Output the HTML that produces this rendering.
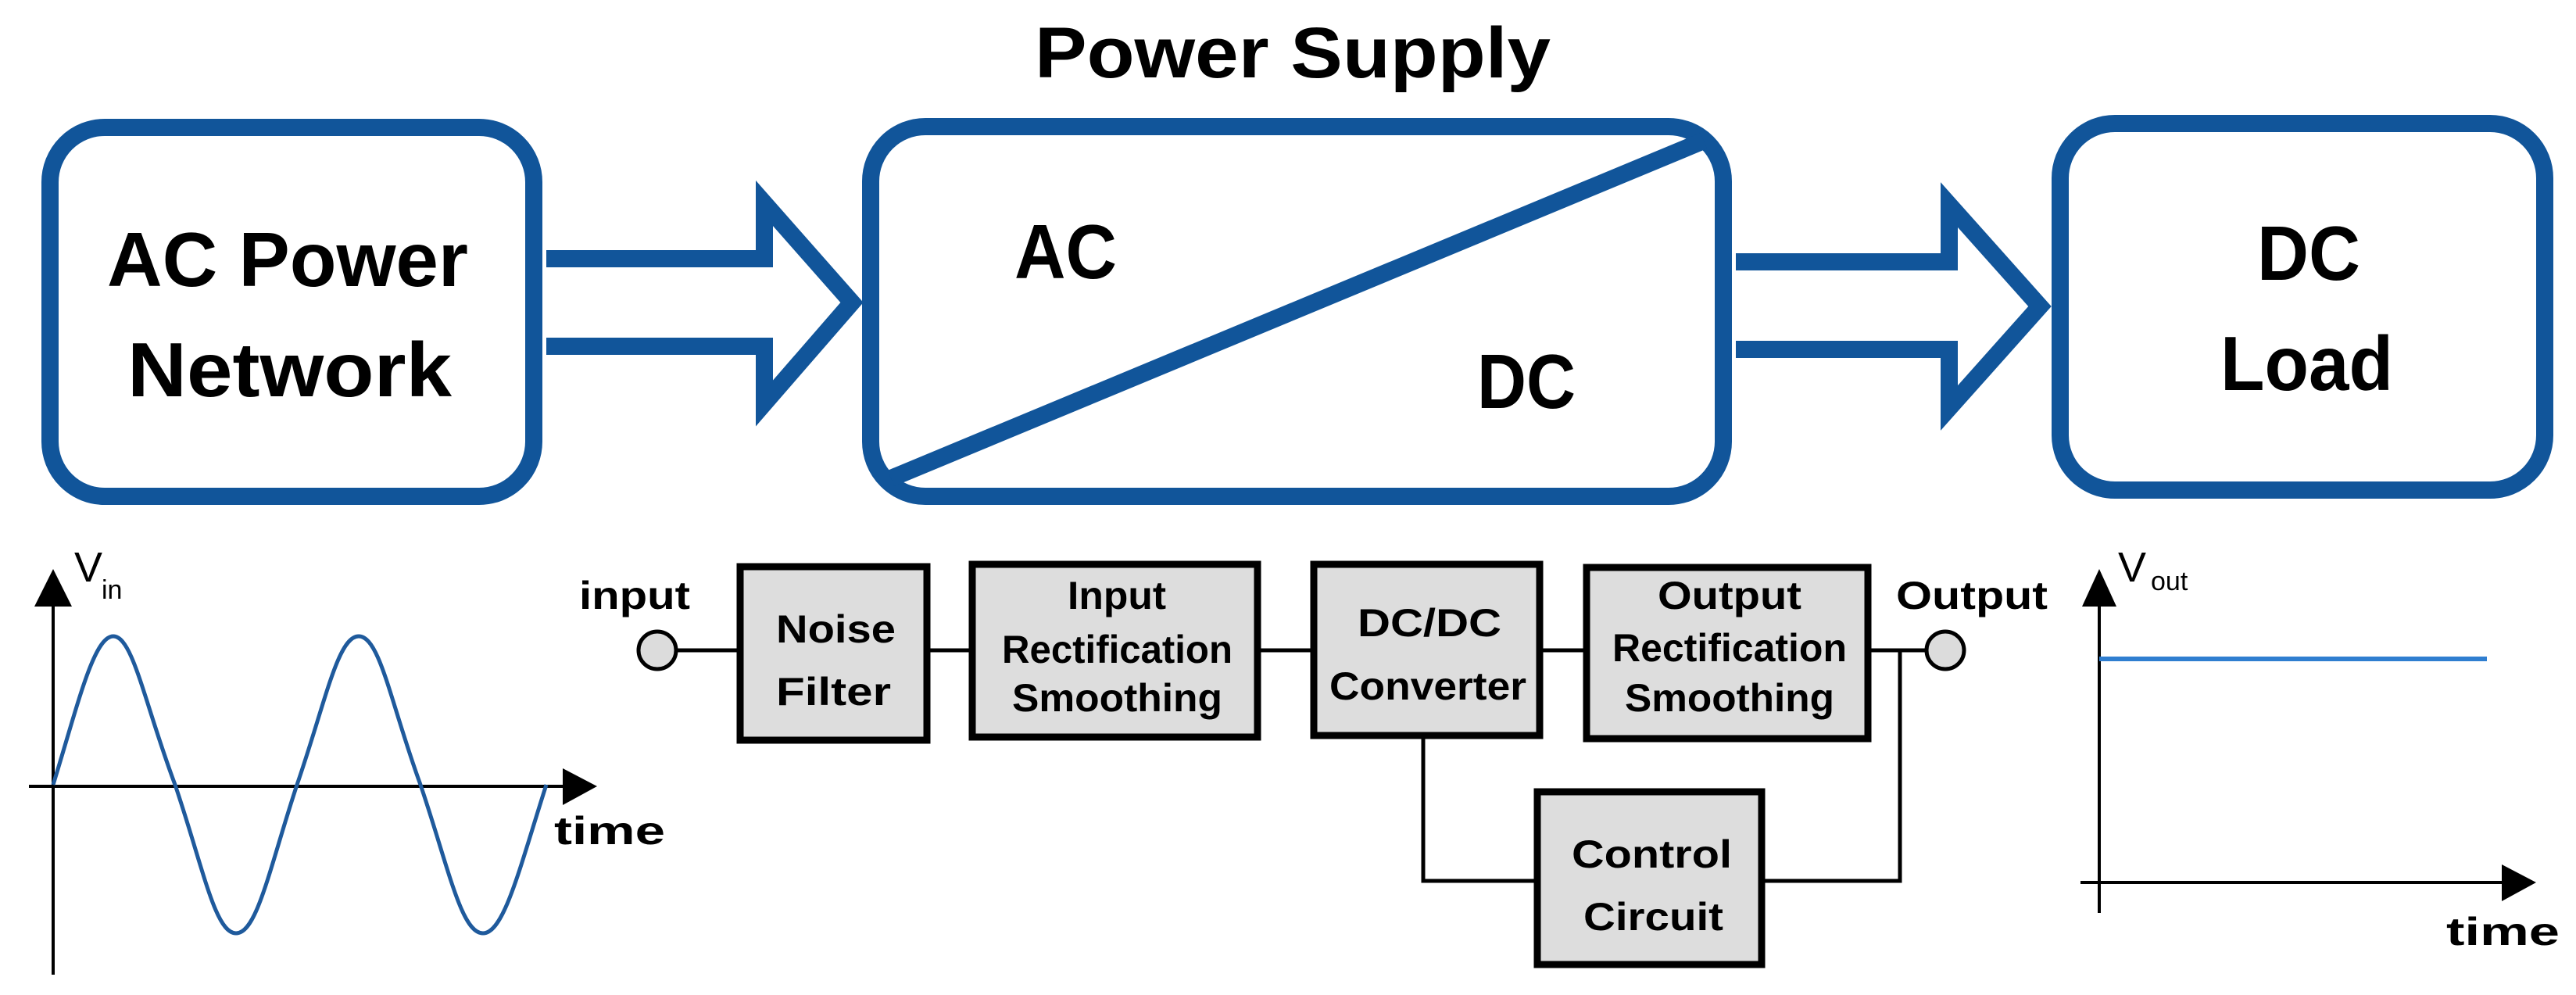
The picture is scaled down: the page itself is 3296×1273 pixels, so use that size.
<!DOCTYPE html>
<html><head><meta charset="utf-8"><style>html,body{margin:0;padding:0;background:#fff}svg{display:block}</style></head>
<body>
<svg width="3296" height="1273" viewBox="0 0 3296 1273" xmlns="http://www.w3.org/2000/svg" font-family="Liberation Sans, sans-serif" font-weight="bold">
<rect width="3296" height="1273" fill="#fff"/>
<g fill="none" stroke="#11559a" stroke-width="22" stroke-linejoin="miter">
<rect x="64" y="163" width="619" height="472" rx="70"/>
<rect x="1114" y="162" width="1091" height="473" rx="70"/>
<rect x="2636" y="158" width="620" height="469" rx="70"/>
<line x1="1140" y1="612" x2="2180" y2="180"/>
<path d="M699 331 H978 V260 L1090 387 L978 516 V443 H699"/>
<path d="M2221 335 H2494 V262 L2610 392 L2494 522 V447 H2221"/>
</g>
<g fill="#000">
<text x="1324" y="99" font-size="92" textLength="660" lengthAdjust="spacingAndGlyphs">Power Supply</text>
<text x="137" y="366" font-size="98" textLength="462" lengthAdjust="spacingAndGlyphs">AC Power</text>
<text x="163" y="507" font-size="98" textLength="415" lengthAdjust="spacingAndGlyphs">Network</text>
<text x="1298" y="356" font-size="98" textLength="131" lengthAdjust="spacingAndGlyphs">AC</text>
<text x="1890" y="522" font-size="98" textLength="126" lengthAdjust="spacingAndGlyphs">DC</text>
<text x="2888" y="358" font-size="98" textLength="132" lengthAdjust="spacingAndGlyphs">DC</text>
<text x="2841" y="499" font-size="98" textLength="221" lengthAdjust="spacingAndGlyphs">Load</text>
</g>
<!-- Vin graph -->
<g stroke="#000" stroke-width="4" fill="none">
<line x1="68" y1="1247" x2="68" y2="770"/>
<line x1="37" y1="1006" x2="725" y2="1006"/>
</g>
<polygon points="68,728 44,776 92,776" fill="#000"/>
<polygon points="764,1006 720,983 720,1030" fill="#000"/>
<path d="M68,1004 C100,900 120,814 145,814 C170,814 185,900 224,1004 C260,1110 275,1194 302,1194 C329,1194 345,1110 380,1004 C416,900 432,814 459,814 C486,814 500,900 538,1004 C574,1110 590,1194 618,1194 C645,1194 665,1110 699,1004" fill="none" stroke="#1f5a9c" stroke-width="5"/>
<text x="95" y="744" font-size="54" font-weight="normal">V</text>
<text x="130" y="766" font-size="34" font-weight="normal">in</text>
<text x="709" y="1080" font-size="50" textLength="142" lengthAdjust="spacingAndGlyphs">time</text>
<!-- block diagram lines -->
<g stroke="#000" stroke-width="5" fill="none">
<line x1="867" y1="832" x2="943" y2="832"/>
<line x1="1190" y1="832" x2="1240" y2="832"/>
<line x1="1613" y1="832" x2="1677" y2="832"/>
<line x1="1974" y1="832" x2="2026" y2="832"/>
<line x1="2394" y1="832" x2="2463" y2="832"/>
<polyline points="1821,945 1821,1127 1963,1127"/>
<polyline points="2258,1127 2431,1127 2431,832"/>
</g>
<g fill="#dcdcdc" stroke="#000" stroke-width="5">
<ellipse cx="841" cy="832" rx="24" ry="24"/>
<ellipse cx="2489" cy="832" rx="24" ry="24"/>
</g>
<g fill="#dddddd" stroke="#000" stroke-width="9">
<rect x="947" y="725" width="239" height="222"/>
<rect x="1244" y="722" width="365" height="221"/>
<rect x="1681" y="722" width="289" height="219"/>
<rect x="2030" y="726" width="360" height="219"/>
<rect x="1967" y="1013" width="287" height="221"/>
</g>
<g fill="#000" font-size="50">
<text x="741" y="779" textLength="142" lengthAdjust="spacingAndGlyphs">input</text>
<text x="2426" y="779" textLength="194" lengthAdjust="spacingAndGlyphs">Output</text>
<text x="993" y="822" textLength="153" lengthAdjust="spacingAndGlyphs">Noise</text>
<text x="993" y="902" textLength="147" lengthAdjust="spacingAndGlyphs">Filter</text>
<text x="1366" y="779" textLength="126" lengthAdjust="spacingAndGlyphs">Input</text>
<text x="1282" y="848" textLength="295" lengthAdjust="spacingAndGlyphs">Rectification</text>
<text x="1295" y="910" textLength="269" lengthAdjust="spacingAndGlyphs">Smoothing</text>
<text x="1737" y="814" textLength="184" lengthAdjust="spacingAndGlyphs">DC/DC</text>
<text x="1701" y="895" textLength="252" lengthAdjust="spacingAndGlyphs">Converter</text>
<text x="2121" y="779" textLength="184" lengthAdjust="spacingAndGlyphs">Output</text>
<text x="2063" y="846" textLength="300" lengthAdjust="spacingAndGlyphs">Rectification</text>
<text x="2079" y="910" textLength="268" lengthAdjust="spacingAndGlyphs">Smoothing</text>
<text x="2011" y="1110" textLength="205" lengthAdjust="spacingAndGlyphs">Control</text>
<text x="2026" y="1190" textLength="179" lengthAdjust="spacingAndGlyphs">Circuit</text>
</g>
<!-- Vout graph -->
<g stroke="#000" stroke-width="4" fill="none">
<line x1="2686" y1="1168" x2="2686" y2="770"/>
<line x1="2662" y1="1129" x2="3205" y2="1129"/>
</g>
<polygon points="2686,728 2664,776 2708,776" fill="#000"/>
<polygon points="3245,1129 3201,1106 3201,1153" fill="#000"/>
<line x1="2686" y1="843" x2="3182" y2="843" stroke="#2f7ed0" stroke-width="6"/>
<text x="2710" y="744" font-size="54" font-weight="normal">V</text>
<text x="2752" y="755" font-size="34" font-weight="normal">out</text>
<text x="3130" y="1209" font-size="50" textLength="145" lengthAdjust="spacingAndGlyphs">time</text>
</svg>
</body></html>
